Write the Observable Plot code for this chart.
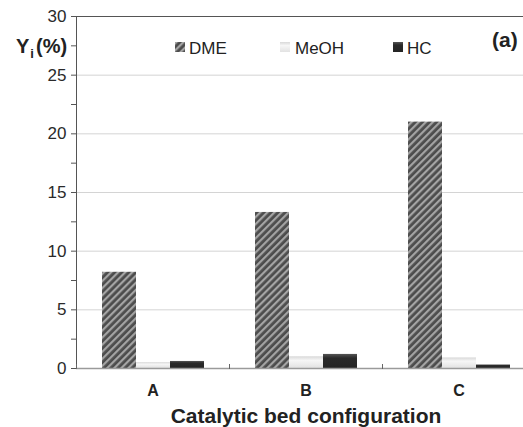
<!DOCTYPE html>
<html>
<head>
<meta charset="utf-8">
<script src="https://cdn.jsdelivr.net/npm/d3@7"></script>
<script src="https://cdn.jsdelivr.net/npm/@observablehq/plot@0.6"></script>
<style>
  html, body { margin: 0; padding: 0; background: #fff; }
  #wrap { position: relative; width: 523px; height: 427px; overflow: hidden; font-family: "Liberation Sans", Arial, sans-serif; color: #222; }
  #wrap > svg { max-width: none !important; width: 535px; height: 427px; }
  .ov { position: absolute; white-space: nowrap; line-height: 1; }
  .legend-item { position: absolute; font-size: 17px; line-height: 1; }
  .legend-item svg { position: absolute; left: 0; top: 2px; }
  .legend-item span { position: absolute; white-space: nowrap; }
</style>
</head>
<body>
<div id="wrap"></div>
<script>
// Catalytic bed configurations and product yields (%)
const configs = ["A", "B", "C"];
const series = ["DME", "MeOH", "HC"];
const dmeYield = [8.2, 13.3, 21.0];
const meohYield = [0.5, 1.0, 0.9];
const hcYield = [0.6, 1.2, 0.3];
const yTicks = [0, 5, 10, 15, 20, 25, 30];
const yMinorTicks = [2.5, 7.5, 12.5, 17.5, 22.5, 27.5];

const fills = ["url(#fill-dme)", "url(#fill-meoh)", "url(#fill-hc)"];

const rows = configs.flatMap((c, i) => [
  {config: c, series: "DME", value: dmeYield[i]},
  {config: c, series: "MeOH", value: meohYield[i]},
  {config: c, series: "HC", value: hcYield[i]}
]);

const chart = Plot.plot({
  width: 535,
  height: 427,
  marginLeft: 76,
  marginRight: 0,
  marginTop: 16,
  marginBottom: 59,
  style: {fontFamily: "Liberation Sans, Arial, sans-serif", color: "#222", background: "#fff", maxWidth: "none"},
  fx: {domain: configs, paddingInner: 0, paddingOuter: 0},
  x: {domain: series, paddingInner: 0, paddingOuter: 0.75, axis: null},
  y: {domain: [0, 30]},
  color: {type: "ordinal", domain: series, range: fills},
  marks: [
    Plot.gridY([5, 10, 15, 20, 25], {stroke: "#d4d4d4", strokeOpacity: 1}),
    Plot.barY(rows, {fx: "config", x: "series", y: "value", fill: "series"}),
    Plot.ruleY([0], {stroke: "#9a9a9a", strokeWidth: 1.5}),
    Plot.frame({anchor: "top", stroke: "#555"}),
    Plot.frame({anchor: "left", stroke: "#555", facetAnchor: "left"}),
    Plot.frame({anchor: "left", stroke: "#666", insetTop: 348}),
    Plot.axisY([...yTicks, ...yMinorTicks], {
      tickSize: 5, tickPadding: 5, fontSize: 17, stroke: "#555",
      tickFormat: d => (d % 5 === 0 ? String(d) : ""),
      label: null, fill: "#2a2a2a"
    }),
    Plot.axisFx({
      anchor: "bottom", tickSize: 0, tickPadding: 16,
      fontSize: 16, fontWeight: "bold",
      label: "Catalytic bed configuration", labelAnchor: "center", labelArrow: "none",
      labelOffset: 54
    })
  ]
});

// Pattern and gradient fills for the three product bars
const defs = d3.select(chart).insert("defs", ":first-child");
const hatch = defs.append("pattern")
  .attr("id", "fill-dme")
  .attr("patternUnits", "userSpaceOnUse")
  .attr("width", 5).attr("height", 5)
  .attr("patternTransform", "rotate(45)");
hatch.append("rect").attr("width", 5).attr("height", 5).attr("fill", "#4c4c4c");
hatch.append("rect").attr("width", 2.2).attr("height", 5).attr("fill", "#a4a4a4");

const meoh = defs.append("linearGradient").attr("id", "fill-meoh")
  .attr("x1", 0).attr("y1", 0).attr("x2", 0).attr("y2", 1);
meoh.append("stop").attr("offset", "0%").attr("stop-color", "#d8d8d8");
meoh.append("stop").attr("offset", "35%").attr("stop-color", "#f6f6f6");
meoh.append("stop").attr("offset", "100%").attr("stop-color", "#e2e2e2");

const hc = defs.append("linearGradient").attr("id", "fill-hc")
  .attr("x1", 0).attr("y1", 0).attr("x2", 0).attr("y2", 1);
hc.append("stop").attr("offset", "0%").attr("stop-color", "#555");
hc.append("stop").attr("offset", "30%").attr("stop-color", "#2a2a2a");
hc.append("stop").attr("offset", "100%").attr("stop-color", "#242424");

d3.select(chart).selectAll("[aria-label='fx-axis label'] text, [aria-label='fx-axis label']")
  .attr("font-size", 21).attr("font-weight", "bold");

const wrap = document.getElementById("wrap");
wrap.appendChild(chart);

// Y-axis title with subscript
const ylab = document.createElement("div");
ylab.className = "ov";
ylab.style.cssText = "left:16px;top:36px;font-size:20px;font-weight:bold;";
ylab.innerHTML = 'Y<span style="font-size:13px;position:relative;top:5px;margin:0 2px 0 1px">i</span>(%)';
wrap.appendChild(ylab);

// Panel tag
const tag = document.createElement("div");
tag.className = "ov";
tag.style.cssText = "left:492px;top:29px;font-size:21px;font-weight:bold;";
tag.textContent = "(a)";
wrap.appendChild(tag);

// In-plot legend
const legendX = [175, 280, 393];
series.forEach((s, i) => {
  const item = document.createElement("div");
  item.className = "legend-item";
  item.style.left = legendX[i] + "px";
  item.style.top = "40px";
  item.innerHTML = `<svg width="10" height="10"><rect width="10" height="10" fill="${fills[i]}"/></svg><span style="left:${i === 1 ? 15 : 14}px;top:0">${s}</span>`;
  wrap.appendChild(item);
});
</script>
</body>
</html>
